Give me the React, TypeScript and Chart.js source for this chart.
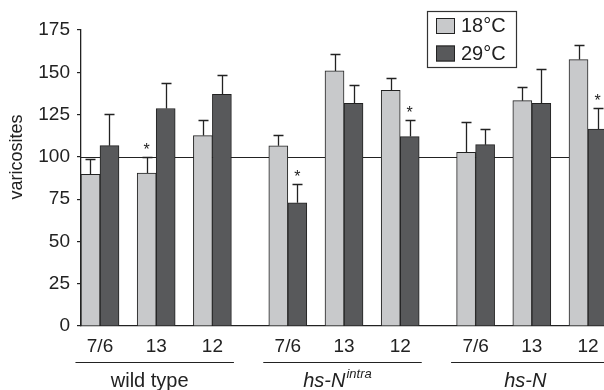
import React, { useEffect, useRef } from "react";
import { Chart, registerables } from "chart.js";

Chart.register(...registerables);

const FONT = "'Liberation Sans', Arial, Helvetica, sans-serif";

// ---- data ----
const subLabels = ["7/6", "13", "12"];
const groupNames = ["wild type", "hs-N", "hs-N"];
const groupSuperscripts = ["", "intra", ""];
const groupItalic = [false, true, true];
const seriesLabels = ["18°C", "29°C"];

const mean18 = [89.7, 90.4, 112.6, 106.5, 150.8, 139.3, 102.7, 133.2, 157.5];
const sem18 = [9.1, 9.7, 9.1, 6.7, 9.8, 7.5, 18.2, 8.3, 8.5];
const mean29 = [106.6, 128.6, 136.9, 72.8, 131.6, 112.0, 107.2, 131.6, 116.4];
const sem29 = [18.8, 15.2, 11.3, 11.3, 10.6, 9.7, 9.2, 20.5, 12.4];
const sig18 = [false, true, false, false, false, false, false, false, false];
const sig29 = [false, false, false, true, false, true, false, false, true];

const yMin = 0;
const yMax = 175;
const yStep = 25;
const referenceValue = 100;
const yAxisTitle = "varicosites";

export default function App() {
  const ref = useRef<HTMLCanvasElement>(null);

  useEffect(() => {
    const canvas = ref.current;
    if (!canvas) return;
    const GROUP_STRIDE = 3.342;
    const perGroup = subLabels.length;
    const pos = (i: number) => Math.floor(i / perGroup) * GROUP_STRIDE + (i % perGroup);
    const positions = mean18.map((_, i) => pos(i));
    const colors = ["#c8c9cb", "#58595b"];
    const means = [mean18, mean29];
    const sems = [sem18, sem29];
    const sigs = [sig18, sig29];
    const ink = "#222";

    const overlay = {
      id: "overlay",
      beforeDatasetsDraw(chart: any) {
        const { ctx, chartArea, scales } = chart;
        const y = Math.round(scales.y.getPixelForValue(referenceValue)) + 0.5;
        ctx.save();
        ctx.strokeStyle = ink;
        ctx.lineWidth = 1.2;
        ctx.beginPath();
        ctx.moveTo(chartArea.left, y);
        ctx.lineTo(chartArea.right, y);
        ctx.stroke();
        ctx.restore();
      },
      afterDatasetsDraw(chart: any) {
        const { ctx, scales } = chart;
        ctx.save();
        ctx.strokeStyle = ink;
        ctx.fillStyle = ink;
        ctx.lineWidth = 1.3;
        for (let d = 0; d < means.length; d++) {
          const meta = chart.getDatasetMeta(d);
          meta.data.forEach((el: any, i: number) => {
            const x = Math.round(el.x) + 0.5;
            const yTop = el.y;
            const yErr = Math.round(scales.y.getPixelForValue(means[d][i] + sems[d][i])) + 0.5;
            ctx.beginPath();
            ctx.moveTo(x, yTop);
            ctx.lineTo(x, yErr);
            ctx.moveTo(x - 5, yErr);
            ctx.lineTo(x + 5, yErr);
            ctx.stroke();
            if (sigs[d][i]) {
              ctx.font = `16px ${FONT}`;
              ctx.textAlign = "center";
              ctx.textBaseline = "alphabetic";
              ctx.fillText("*", el.x, yErr - 3);
            }
          });
        }
        ctx.restore();
      },
      afterDraw(chart: any) {
        const { ctx, chartArea, scales } = chart;
        const xs = scales.x;
        ctx.save();
        // legend
        ctx.strokeStyle = "#333";
        ctx.lineWidth = 1.2;
        ctx.strokeRect(427.5, 11.5, 89, 56);
        seriesLabels.forEach((label, d) => {
          const sy = 18 + d * 27.5;
          ctx.fillStyle = colors[d];
          ctx.fillRect(436, sy, 19, 16);
          ctx.strokeStyle = ink;
          ctx.lineWidth = 1;
          ctx.strokeRect(436.5, sy + 0.5, 18, 15);
          ctx.fillStyle = ink;
          ctx.font = `20px ${FONT}`;
          ctx.textAlign = "left";
          ctx.textBaseline = "middle";
          ctx.fillText(label, 461, sy + 8.5);
        });
        // group lines and labels
        const unit = xs.getPixelForValue(1) - xs.getPixelForValue(0);
        const half = 1.41 * unit;
        const lineY = Math.round(chartArea.bottom + 36) + 0.5;
        const baseY = chartArea.bottom + 60.5;
        groupNames.forEach((name, g) => {
          const mid = xs.getPixelForValue(positions[g * perGroup + 1]) - 1.5;
          ctx.strokeStyle = ink;
          ctx.lineWidth = 1.2;
          ctx.beginPath();
          ctx.moveTo(mid - half, lineY);
          ctx.lineTo(mid + half, lineY);
          ctx.stroke();
          const style = groupItalic[g] ? "italic " : "";
          const mainFont = `${style}20px ${FONT}`;
          const supFont = `${style}13px ${FONT}`;
          ctx.font = mainFont;
          const w1 = ctx.measureText(name).width;
          ctx.font = supFont;
          const sup = groupSuperscripts[g];
          const w2 = sup ? ctx.measureText(sup).width + 1 : 0;
          const cx = mid - 5;
          const startX = cx - (w1 + w2) / 2;
          ctx.fillStyle = ink;
          ctx.textAlign = "left";
          ctx.textBaseline = "alphabetic";
          ctx.font = mainFont;
          ctx.fillText(name, startX, baseY);
          if (sup) {
            ctx.font = supFont;
            ctx.fillText(sup, startX + w1 + 1, baseY - 9);
          }
        });
        // y title
        ctx.translate(17, 157);
        ctx.rotate(-Math.PI / 2);
        ctx.font = `18px ${FONT}`;
        ctx.textAlign = "center";
        ctx.textBaseline = "middle";
        ctx.fillStyle = ink;
        ctx.fillText(yAxisTitle, 0, 0);
        ctx.restore();
      },
    };

    const chart = new Chart(canvas, {
      type: "bar",
      data: {
        datasets: seriesLabels.map((label, d) => ({
          label,
          data: means[d].map((v, i) => ({ x: positions[i], y: v })),
          backgroundColor: colors[d],
          borderColor: ink,
          borderWidth: 1,
          barThickness: 19,
        })),
      },
      options: {
        responsive: false,
        animation: false,
        devicePixelRatio: 1,
        layout: { padding: { top: 30, left: 0, right: 0, bottom: 0 } },
        plugins: { legend: { display: false }, tooltip: { enabled: false } },
        scales: {
          x: {
            type: "linear",
            offset: false,
            min: -0.338,
            max: 9.609,
            grid: { display: false, drawTicks: false },
            border: { display: true, color: ink, width: 1.3 },
            ticks: {
              color: ink,
              font: { size: 19, family: FONT },
              padding: 9,
              autoSkip: false,
              maxRotation: 0,
              callback: (_v: any, index: number) => subLabels[index % perGroup],
            },
            afterBuildTicks: (scale: any) => {
              scale.ticks = positions.map((p) => ({ value: p }));
            },
            afterFit: (scale: any) => {
              scale.height = 64;
            },
          },
          y: {
            min: yMin,
            max: yMax,
            grid: { drawOnChartArea: false, drawTicks: true, tickLength: 4, color: ink, lineWidth: 1.2 },
            border: { display: true, color: ink, width: 1.3 },
            ticks: {
              stepSize: yStep,
              color: ink,
              font: { size: 19, family: FONT },
              padding: 7,
            },
            afterFit: (scale: any) => {
              scale.width = 81;
            },
          },
        },
      },
      plugins: [overlay],
    } as any);

    return () => chart.destroy();
  }, []);

  return (
    <div
      style={{
        position: "fixed",
        left: 0,
        top: 0,
        width: 604,
        height: 390,
        overflow: "hidden",
        background: "#fff",
      }}
    >
      <canvas ref={ref} width={640} height={390} style={{ display: "block", width: 640, height: 390 }} />
    </div>
  );
}
